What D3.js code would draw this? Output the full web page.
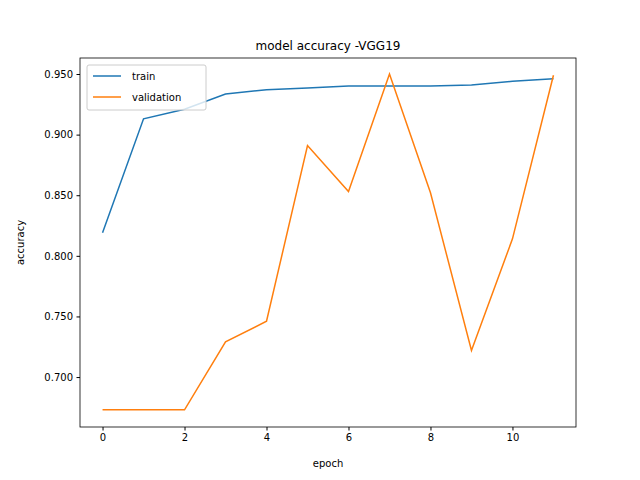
<!DOCTYPE html>
<html><head><meta charset="utf-8">
<script src="https://cdn.jsdelivr.net/npm/d3@7"></script>
<style>body{margin:0;background:#fff}text{font-family:"DejaVu Sans",sans-serif}</style>
</head><body>
<script>
const epochs = [0,1,2,3,4,5,6,7,8,9,10,11];
const train = [0.819,0.913,0.921,0.9335,0.937,0.9385,0.940,0.940,0.940,0.941,0.944,0.946];
const validation = [0.673,0.673,0.673,0.729,0.746,0.891,0.853,0.950,0.852,0.722,0.814,0.949];
const yTicks = [0.700,0.750,0.800,0.850,0.900,0.950];
const xTicks = [0,2,4,6,8,10];

const margin = {top: 58, right: 64, bottom: 53, left: 80},
    width = 640 - margin.left - margin.right,
    height = 480 - margin.top - margin.bottom;

const svg = d3.select("body").append("svg")
    .attr("width", 640).attr("height", 480)
    .append("g")
    .attr("transform", "translate(" + margin.left + "," + margin.top + ")");

const x = d3.scaleLinear().domain([-0.55, 11.55]).range([0, width]);
const y = d3.scaleLinear().domain([0.6588, 0.9632]).range([height, 0]);

const xa = svg.append("g").attr("transform", "translate(0," + height + ")")
    .call(d3.axisBottom(x).tickValues(xTicks).tickSize(3.5).tickPadding(3.5).tickFormat(d3.format("d")));
const ya = svg.append("g")
    .call(d3.axisLeft(y).tickValues(yTicks).tickSize(3.5).tickPadding(3.5).tickFormat(d3.format(".3f")));
[xa, ya].forEach(a => {
    a.select(".domain").remove();
    a.selectAll("text").style("font-size", "10px").attr("fill", "#000");
    a.selectAll("line").attr("stroke", "#000");
});
svg.append("rect").attr("width", width).attr("height", height)
    .attr("fill", "none").attr("stroke", "#000").attr("stroke-width", 0.8);

const line = d3.line().x((d, i) => x(epochs[i])).y(d => y(d));
svg.append("path").datum(train).attr("d", line).attr("fill", "none").attr("stroke", "#1f77b4").attr("stroke-width", 1.5);
svg.append("path").datum(validation).attr("d", line).attr("fill", "none").attr("stroke", "#ff7f0e").attr("stroke-width", 1.5);

svg.append("text").attr("x", width / 2).attr("y", -8).attr("text-anchor", "middle")
    .style("font-size", "12px").text("model accuracy -VGG19");
svg.append("text").attr("x", width / 2).attr("y", height + 40).attr("text-anchor", "middle")
    .style("font-size", "10px").text("epoch");
svg.append("text").attr("transform", "rotate(-90)").attr("x", -height / 2).attr("y", -56)
    .attr("text-anchor", "middle").style("font-size", "10px").text("accuracy");

const lg = svg.append("g").attr("transform", "translate(7,7)");
lg.append("rect").attr("width", 119).attr("height", 45).attr("rx", 2)
    .attr("fill", "#fff").attr("fill-opacity", 0.8).attr("stroke", "#ccc");
[["train", "#1f77b4"], ["validation", "#ff7f0e"]].forEach((s, i) => {
    const yy = 11 + i * 21;
    lg.append("line").attr("x1", 6).attr("x2", 34).attr("y1", yy).attr("y2", yy)
        .attr("stroke", s[1]).attr("stroke-width", 1.5);
    lg.append("text").attr("x", 45).attr("y", yy + 4).style("font-size", "10px").text(s[0]);
});
</script>
</body></html>
